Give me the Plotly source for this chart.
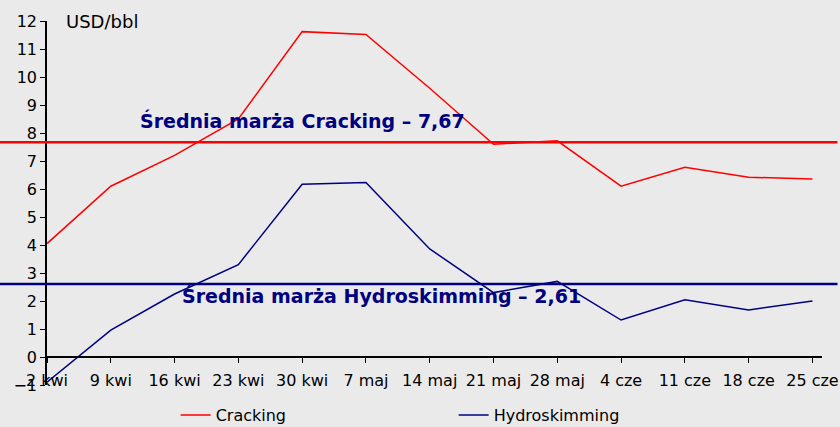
import plotly.graph_objects as go

weeks = ["2 kwi", "9 kwi", "16 kwi", "23 kwi", "30 kwi", "7 maj", "14 maj",
         "21 maj", "28 maj", "4 cze", "11 cze", "18 cze", "25 cze"]
cracking = [4.05, 6.1, 7.2, 8.5, 11.62, 11.52, 9.6, 7.6, 7.72, 6.1, 6.78, 6.42, 6.36]
hydro = [-0.9, 0.96, 2.25, 3.3, 6.17, 6.23, 3.86, 2.3, 2.7, 1.32, 2.04, 1.68, 2.0]
avg_cracking = 7.67
avg_hydro = 2.61

RED = "#FF0000"
NAVY = "#000080"
FONT = "DejaVu Sans"

x_idx = list(range(len(weeks)))

fig = go.Figure()
fig.add_trace(go.Scatter(x=x_idx, y=cracking, mode="lines", name="Cracking",
                         line=dict(color=RED, width=1.5)))
fig.add_trace(go.Scatter(x=x_idx, y=hydro, mode="lines", name="Hydroskimming",
                         line=dict(color=NAVY, width=1.5)))

# average lines run across the whole picture
fig.add_shape(type="line", xref="paper", yref="y", x0=-0.07, x1=1.02,
              y0=avg_cracking, y1=avg_cracking, line=dict(color=RED, width=2.5))
fig.add_shape(type="line", xref="paper", yref="y", x0=-0.07, x1=1.02,
              y0=avg_hydro, y1=avg_hydro, line=dict(color=NAVY, width=2.5))

fig.add_annotation(xref="paper", yref="y", x=0.33, y=8.45, xanchor="center",
                   showarrow=False, text="<b>Średnia marża Cracking – 7,67</b>",
                   font=dict(family=FONT, size=19, color=NAVY))
fig.add_annotation(xref="paper", yref="y", x=0.432, y=2.2, xanchor="center",
                   showarrow=False, text="<b>Średnia marża Hydroskimming – 2,61</b>",
                   font=dict(family=FONT, size=19, color=NAVY))
fig.add_annotation(xref="paper", yref="y", x=0.022, y=12, xanchor="left",
                   showarrow=False, text="USD/bbl",
                   font=dict(family=FONT, size=18, color="#000000"))

fig.update_layout(
    width=840, height=427,
    margin=dict(l=47, r=18, t=21, b=42),
    paper_bgcolor="#EAEAEA", plot_bgcolor="#EAEAEA",
    font=dict(family=FONT, size=16, color="#000000"),
    showlegend=True,
    legend=dict(orientation="h", x=0.166, y=0.028, yref="container",
                xanchor="left", yanchor="middle",
                entrywidth=233, entrywidthmode="pixels",
                font=dict(family=FONT, size=16), bgcolor="rgba(0,0,0,0)"),
    xaxis=dict(range=[0, 12.15], tickmode="array", tickvals=x_idx, ticktext=weeks,
               showgrid=False, zeroline=False, showline=True, linecolor="#000000",
               linewidth=1.5, ticks="outside", ticklen=5, tickcolor="#000000",
               ticklabelstandoff=4,
               anchor="free", position=(0 - (-1)) / 13, automargin=False),
    yaxis=dict(range=[-1, 12], dtick=1, showgrid=False, zeroline=False,
               showline=True, linecolor="#000000", linewidth=1.5,
               ticks="outside", ticklen=5, tickcolor="#000000", automargin=False),
)

fig.write_html("out.html", config={"displayModeBar": False},
               post_script="document.body.style.margin='0';document.body.style.overflow='hidden';")
